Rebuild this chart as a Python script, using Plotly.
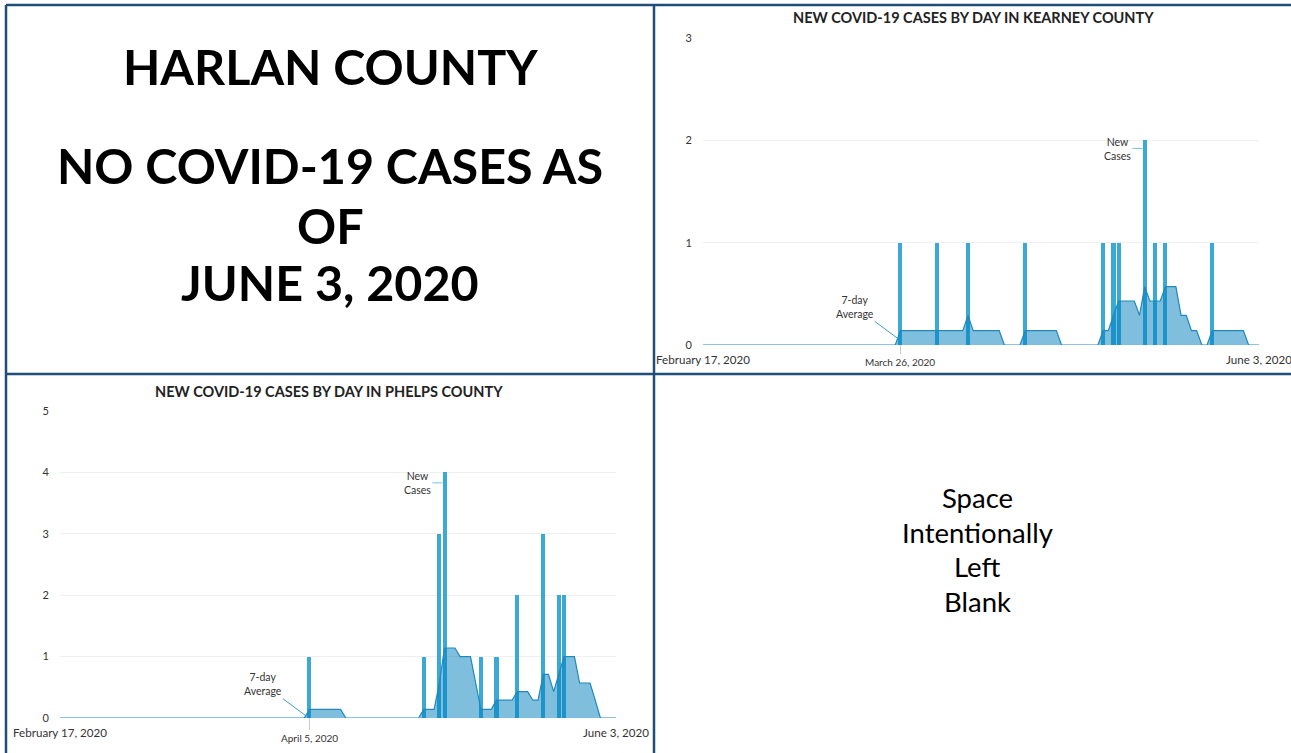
import pandas as pd
import plotly.graph_objects as go

# ---------------- data ----------------
days = pd.date_range("2020-02-17", "2020-06-03", freq="D")

kearney_case_dates = ["2020-03-26", "2020-04-02", "2020-04-08", "2020-04-19", "2020-05-04",
                      "2020-05-06", "2020-05-07", "2020-05-12", "2020-05-14", "2020-05-16",
                      "2020-05-25"]
kearney_cases = [1, 1, 1, 1, 1, 1, 1, 2, 1, 1, 1]

kearney_avg = [
    0, 0, 0, 0, 0, 0, 0, 0, 0, 0,
    0, 0, 0, 0, 0, 0, 0, 0, 0, 0,
    0, 0, 0, 0, 0, 0, 0, 0, 0, 0,
    0, 0, 0, 0, 0, 0, 0, 0, 0.14, 0.14,
    0.14, 0.14, 0.14, 0.14, 0.14, 0.14, 0.14, 0.14, 0.14, 0.14,
    0.14, 0.29, 0.14, 0.14, 0.14, 0.14, 0.14, 0.14, 0, 0,
    0, 0, 0.14, 0.14, 0.14, 0.14, 0.14, 0.14, 0.14, 0,
    0, 0, 0, 0, 0, 0, 0, 0.14, 0.14, 0.29,
    0.43, 0.43, 0.43, 0.43, 0.29, 0.57, 0.43, 0.43, 0.43, 0.57,
    0.57, 0.57, 0.29, 0.29, 0.14, 0.14, 0, 0, 0.14, 0.14,
    0.14, 0.14, 0.14, 0.14, 0.14, 0, 0, 0,
]

phelps_case_dates = ["2020-04-05", "2020-04-27", "2020-04-30", "2020-05-01", "2020-05-08",
                     "2020-05-11", "2020-05-15", "2020-05-20", "2020-05-23", "2020-05-24"]
phelps_cases = [1, 1, 3, 4, 1, 1, 2, 3, 2, 2]

phelps_avg = [
    0, 0, 0, 0, 0, 0, 0, 0, 0, 0,
    0, 0, 0, 0, 0, 0, 0, 0, 0, 0,
    0, 0, 0, 0, 0, 0, 0, 0, 0, 0,
    0, 0, 0, 0, 0, 0, 0, 0, 0, 0,
    0, 0, 0, 0, 0, 0, 0, 0, 0.14, 0.14,
    0.14, 0.14, 0.14, 0.14, 0.14, 0, 0, 0, 0, 0,
    0, 0, 0, 0, 0, 0, 0, 0, 0, 0,
    0.14, 0.14, 0.14, 0.57, 1.14, 1.14, 1.14, 1.0, 1.0, 1.0,
    0.57, 0.14, 0.14, 0.14, 0.29, 0.29, 0.29, 0.29, 0.43, 0.43,
    0.43, 0.29, 0.29, 0.71, 0.71, 0.43, 0.71, 1.0, 1.0, 1.0,
    0.57, 0.57, 0.57, 0.29, 0, 0, 0, 0,
]

kearney_title = "NEW COVID-19 CASES BY DAY IN KEARNEY COUNTY"
phelps_title = "NEW COVID-19 CASES BY DAY IN PHELPS COUNTY"
kearney_yticks = [0, 1, 2, 3]
phelps_yticks = [0, 1, 2, 3, 4, 5]
end_tick_vals = ["2020-02-17", "2020-06-03"]
end_tick_text = ["February 17, 2020", "June 3, 2020"]
kearney_mid_date, kearney_mid_label = "2020-03-26", "March 26, 2020"
phelps_mid_date, phelps_mid_label = "2020-04-05", "April 5, 2020"

# ---------------- style ----------------
W, H = 1291, 753
BAR = "#3aa9d6"
AVG_LINE = "#2187bd"
AVG_FILL = "rgba(0,128,188,0.5)"
NAVY = "#1f4e79"
FONT = "Lato"
DAY_MS = 86400000


def px(xp):
    return xp / W


def py(yp):
    return 1 - yp / H


fig = go.Figure()

# Kearney (top right)
fig.add_trace(go.Bar(x=kearney_case_dates, y=kearney_cases, width=0.78 * DAY_MS,
                     marker=dict(color=BAR, line=dict(width=0)), xaxis="x", yaxis="y",
                     showlegend=False))
fig.add_trace(go.Scatter(x=days, y=kearney_avg, mode="lines", fill="tozeroy",
                         fillcolor=AVG_FILL, line=dict(color=AVG_LINE, width=1.2),
                         xaxis="x", yaxis="y", showlegend=False))
# Phelps (bottom left)
fig.add_trace(go.Bar(x=phelps_case_dates, y=phelps_cases, width=0.78 * DAY_MS,
                     marker=dict(color=BAR, line=dict(width=0)), xaxis="x2", yaxis="y2",
                     showlegend=False))
fig.add_trace(go.Scatter(x=days, y=phelps_avg, mode="lines", fill="tozeroy",
                         fillcolor=AVG_FILL, line=dict(color=AVG_LINE, width=1.2),
                         xaxis="x2", yaxis="y2", showlegend=False))

xcommon = dict(type="date", range=["2020-02-17", "2020-06-03"], showgrid=False,
               zeroline=False, showline=False, ticks="", tickvals=end_tick_vals,
               ticktext=end_tick_text, tickfont=dict(family=FONT, size=11.6, color="#333"),
               ticklabelstandoff=6, ticklabeloverflow="allow", fixedrange=True,
               automargin=False)
ycommon = dict(showgrid=True, gridcolor="#efefef", gridwidth=1, zeroline=False,
               showline=False, ticks="", tickfont=dict(family=FONT, size=11, color="#333"),
               ticklabelstandoff=10, fixedrange=True, automargin=False)

fig.update_layout(
    autosize=True,
    margin=dict(l=0, r=0, t=0, b=0, pad=0),
    paper_bgcolor="white", plot_bgcolor="white",
    bargap=0, barmode="overlay",
    xaxis=dict(xcommon, domain=[px(703), px(1259)], anchor="y"),
    yaxis=dict(ycommon, domain=[py(345), py(38)], range=[0, 3], tickvals=kearney_yticks,
               anchor="x"),
    xaxis2=dict(xcommon, domain=[px(60), px(616)], anchor="y2"),
    yaxis2=dict(ycommon, domain=[py(718), py(411)], range=[0, 5], tickvals=phelps_yticks,
                anchor="x2"),
)

ann = []
shapes = []

# titles
ann.append(dict(text="<b>" + kearney_title + "</b>", x=px(973), y=py(18), xref="paper",
                yref="paper", showarrow=False, xanchor="center", yanchor="middle",
                font=dict(family=FONT, size=14.5, color="#222")))
ann.append(dict(text="<b>" + phelps_title + "</b>", x=px(329), y=py(391), xref="paper",
                yref="paper", showarrow=False, xanchor="center", yanchor="middle",
                font=dict(family=FONT, size=14.5, color="#222")))

# middle date labels and their tick lines
for xa, date, label, ylab, ytop, ybot in [("x", kearney_mid_date, kearney_mid_label, 362, 345, 354),
                                         ("x2", phelps_mid_date, phelps_mid_label, 738, 718, 730)]:
    ann.append(dict(text=label, x=date, y=py(ylab), xref=xa, yref="paper", showarrow=False,
                    xanchor="center", yanchor="middle",
                    font=dict(family=FONT, size=10, color="#333")))
    shapes.append(dict(type="line", xref=xa, yref="paper", x0=date, x1=date,
                       y0=py(ytop), y1=py(ybot), line=dict(color="#c8c8c8", width=1)))

# callouts
note_font = dict(family=FONT, size=10.5, color="#333")
ann.append(dict(text="New<br>Cases", x="2020-05-11 14:00", y=1.92, xref="x", yref="y",
                showarrow=True, arrowhead=0, arrowwidth=1, arrowcolor="#7cc4e2",
                ax=-25, ay=0, font=note_font, align="center"))
ann.append(dict(text="7-day<br>Average", x="2020-03-25 14:00", y=0.06, xref="x", yref="y",
                showarrow=True, arrowhead=0, arrowwidth=1, arrowcolor="#3a9fd0",
                ax=-43, ay=-32, font=note_font, align="center"))
ann.append(dict(text="New<br>Cases", x="2020-04-30 14:00", y=3.83, xref="x2", yref="y2",
                showarrow=True, arrowhead=0, arrowwidth=1, arrowcolor="#7cc4e2",
                ax=-25, ay=0, font=note_font, align="center"))
ann.append(dict(text="7-day<br>Average", x="2020-04-04 10:00", y=0.03, xref="x2", yref="y2",
                showarrow=True, arrowhead=0, arrowwidth=1, arrowcolor="#3a9fd0",
                ax=-43, ay=-32, font=note_font, align="center"))

# Harlan text (top left)
big = dict(family=FONT, size=48.5, color="black")
for txt, yp in [("HARLAN COUNTY", 66), ("NO COVID-19 CASES AS", 165), ("OF", 225),
                ("JUNE 3, 2020", 282)]:
    ann.append(dict(text="<b>" + txt + "</b>", x=px(330), y=py(yp), xref="paper", yref="paper",
                    showarrow=False, xanchor="center", yanchor="middle", font=big))

# blank cell text (bottom right)
for txt, yp in [("Space", 497), ("Intentionally", 532), ("Left", 566), ("Blank", 601)]:
    ann.append(dict(text=txt, x=px(977), y=py(yp), xref="paper", yref="paper",
                    showarrow=False, xanchor="center", yanchor="middle",
                    font=dict(family=FONT, size=27.5, color="black")))

# table borders
bw = 2.5
shapes += [
    dict(type="line", xref="paper", yref="paper", x0=px(6), x1=1, y0=py(5), y1=py(5),
         line=dict(color=NAVY, width=bw)),
    dict(type="line", xref="paper", yref="paper", x0=px(6), x1=px(6), y0=py(5), y1=0,
         line=dict(color=NAVY, width=bw)),
    dict(type="line", xref="paper", yref="paper", x0=px(654), x1=px(654), y0=py(5), y1=0,
         line=dict(color=NAVY, width=bw)),
    dict(type="line", xref="paper", yref="paper", x0=px(6), x1=1, y0=py(374), y1=py(374),
         line=dict(color=NAVY, width=bw)),
]

fig.update_layout(annotations=ann, shapes=shapes)

post = """
document.documentElement.style.margin='0';
document.documentElement.style.overflow='hidden';
document.body.style.margin='0';
document.body.style.overflow='hidden';
var gd = document.getElementById('{plot_id}');
gd.style.width = window.innerWidth + 'px';
gd.style.height = window.innerHeight + 'px';
Plotly.relayout(gd, {width: window.innerWidth, height: window.innerHeight});
"""

fig.write_html("out.html", config={"displayModeBar": False, "responsive": True},
               default_width="100vw", default_height="100vh", post_script=post)
